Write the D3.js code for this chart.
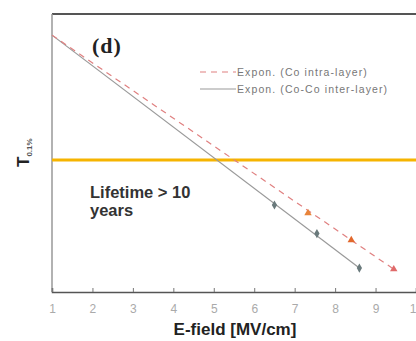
<!DOCTYPE html>
<html>
<head>
<meta charset="utf-8">
<script src="https://cdn.jsdelivr.net/npm/d3@7"></script>
<style>
  body { margin: 0; background: #fff; }
  svg { display: block; font-family: "Liberation Sans", Arial, sans-serif; }
</style>
</head>
<body>
<svg id="chart" width="416" height="341"></svg>
<script>
// data (y in arbitrary log-lifetime units, no y ticks shown)
const xTicks = [1, 2, 3, 4, 5, 6, 7, 8, 9, 10];
const interX = [6.5, 7.55, 8.6];
const interY = [31.3, 21.0, 8.6];
const intraX = [7.33, 8.4, 9.45];
const intraY = [28.4, 18.7, 8.2];
const intraColors = ["#e8843a", "#e2682c", "#e06a6a"];
const interFitX = [1, 8.6];
const interFitY = [92.4, 8.6];
const intraFitX = [1, 9.45];
const intraFitY = [92.4, 8.2];
const lifetimeLevel = 47.5;
const legendLabels = ["Expon. (Co intra-layer)", "Expon. (Co-Co inter-layer)"];

const svg = d3.select("#chart");
const margin = { left: 52, top: 14, right: 0, bottom: 49 };
const W = 416, H = 341;

const x = d3.scaleLinear().domain([1, 10]).range([margin.left, W - margin.right]);
const y = d3.scaleLinear().domain([0, 100]).range([H - margin.bottom, margin.top]);

// frame
svg.append("line").attr("x1", margin.left).attr("x2", W).attr("y1", margin.top).attr("y2", margin.top)
  .style("stroke", "#555").style("stroke-width", 2);
svg.append("line").attr("x1", margin.left).attr("x2", margin.left).attr("y1", margin.top).attr("y2", H - margin.bottom)
  .style("stroke", "#999").style("stroke-width", 1.5);

// x axis
const xAxis = svg.append("g")
  .attr("transform", `translate(0,${H - margin.bottom})`)
  .call(d3.axisBottom(x).tickValues(xTicks).tickSize(-4).tickPadding(12).tickFormat(d3.format("d")));
xAxis.select(".domain").style("stroke", "#555").style("stroke-width", 1.5);
xAxis.selectAll(".tick line").style("stroke", "#777");
xAxis.selectAll(".tick text").style("fill", "#aaa").style("font-size", "12px");

// lifetime level
svg.append("line")
  .attr("x1", margin.left).attr("x2", W)
  .attr("y1", y(lifetimeLevel)).attr("y2", y(lifetimeLevel))
  .style("stroke", "#f6b400").style("stroke-width", 3);

// fit lines
const line = d3.line().x(d => x(d[0])).y(d => y(d[1]));
svg.append("path").datum(d3.zip(interFitX, interFitY)).attr("d", line)
  .style("fill", "none").style("stroke", "#999").style("stroke-width", 1.2);
svg.append("path").datum(d3.zip(intraFitX, intraFitY)).attr("d", line)
  .style("fill", "none").style("stroke", "#e08080").style("stroke-width", 1.2)
  .style("stroke-dasharray", "6,5");

// markers
svg.selectAll(".inter").data(d3.zip(interX, interY)).enter().append("path")
  .attr("transform", d => `translate(${x(d[0])},${y(d[1])})`)
  .attr("d", d3.symbol(d3.symbolDiamond, 24))
  .style("fill", "#6a7a7c");
svg.selectAll(".intra").data(d3.zip(intraX, intraY)).enter().append("path")
  .attr("transform", d => `translate(${x(d[0])},${y(d[1])})`)
  .attr("d", d3.symbol(d3.symbolTriangle, 24))
  .style("fill", (d, i) => intraColors[i]);

// legend
const leg = svg.append("g");
leg.append("line").attr("x1", 200).attr("x2", 236).attr("y1", 72).attr("y2", 72)
  .style("stroke", "#e08080").style("stroke-width", 1.2).style("stroke-dasharray", "6,5");
leg.append("line").attr("x1", 200).attr("x2", 236).attr("y1", 89).attr("y2", 89)
  .style("stroke", "#999").style("stroke-width", 1.2);
legendLabels.forEach((t, i) => {
  leg.append("text").attr("x", 237).attr("y", 76 + i * 17).text(t)
    .style("font-size", "10.5px").style("letter-spacing", "1.1px").style("fill", "#777");
});

// panel label
svg.append("text").attr("x", 92).attr("y", 53).text("(d)")
  .style("font-family", "'Liberation Serif', 'Times New Roman', serif")
  .style("font-size", "22px").style("font-weight", "bold").style("letter-spacing", "1px").style("fill", "#222");

// annotation
svg.append("text").attr("x", 90).attr("y", 198).text("Lifetime > 10")
  .style("font-size", "16.5px").style("font-weight", "bold").style("fill", "#333");
svg.append("text").attr("x", 90).attr("y", 216).text("years")
  .style("font-size", "16.5px").style("font-weight", "bold").style("fill", "#333");

// axis titles
svg.append("text").attr("x", 235).attr("y", 335).attr("text-anchor", "middle")
  .text("E-field [MV/cm]")
  .style("font-size", "17px").style("font-weight", "bold").style("fill", "#222");
const yt = svg.append("text").attr("transform", "translate(29,167) rotate(-90)");
yt.append("tspan").text("T").style("font-size", "17px").style("font-weight", "bold").style("fill", "#222");
yt.append("tspan").text("0.1%").attr("dy", 3).style("font-size", "8px").style("font-weight", "bold").style("fill", "#555");
</script>
</body>
</html>
